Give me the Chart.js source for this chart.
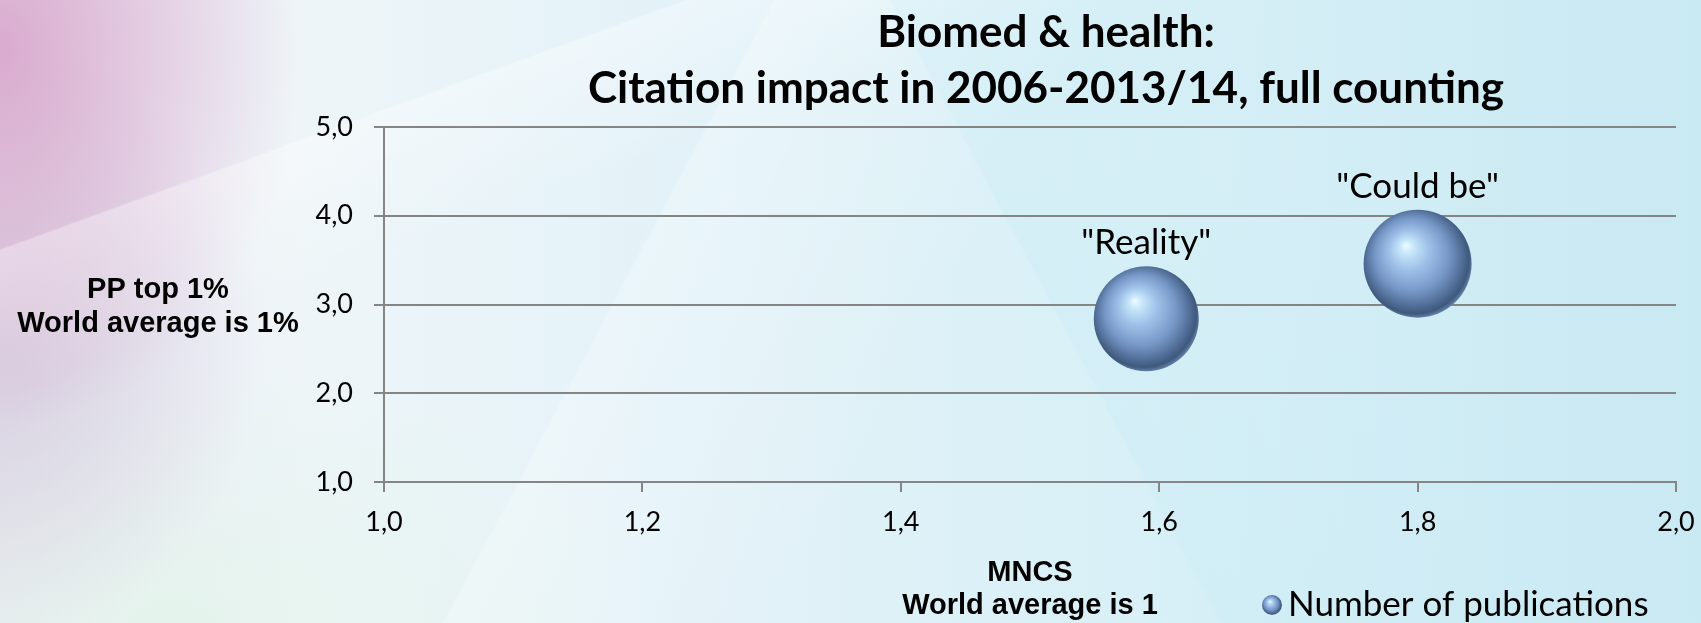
<!DOCTYPE html>
<html>
<head>
<meta charset="utf-8">
<script src="https://cdn.jsdelivr.net/npm/chart.js@4.4.0/dist/chart.umd.min.js"></script>
<style>
html, body { margin: 0; padding: 0; width: 1701px; height: 623px; overflow: hidden; }
#wrap {
  position: relative; width: 1701px; height: 623px;
  background:
    linear-gradient(118deg, rgba(255,255,255,0) 0%, rgba(255,255,255,0) 38%, rgba(255,255,255,0.25) 38.2%, rgba(255,255,255,0.0) 55%),
    linear-gradient(62deg, rgba(255,255,255,0) 0%, rgba(255,255,255,0) 60%, rgba(200,235,245,0.35) 60.2%, rgba(200,235,245,0) 80%),
    linear-gradient(160deg, rgba(255,255,255,0) 0%, rgba(255,255,255,0) 20%, rgba(255,255,255,0.35) 20.2%, rgba(255,255,255,0) 32%),
    radial-gradient(ellipse 300px 380px at 0% 8%, rgba(214,160,200,0.85), rgba(214,160,200,0) 100%),
    radial-gradient(ellipse 260px 300px at 0% 55%, rgba(205,195,215,0.7), rgba(205,195,215,0) 100%),
    radial-gradient(ellipse 500px 250px at 10% 100%, rgba(228,244,236,0.9), rgba(228,244,236,0) 100%),
    linear-gradient(90deg, #ece9f3 0%, #eef5f8 18%, #e3f2f8 40%, #d9f0f7 65%, #c9e9f3 100%);
}
canvas { display: block; }
</style>
</head>
<body>
<div id="wrap"><canvas id="c" width="1701" height="623"></canvas></div>
<script>
// ---- data ----
const titleLines = ['Biomed & health:', 'Citation impact in 2006-2013/14, full counting'];
const seriesName = 'Number of publications';
const pointLabels = ['"Reality"', '"Could be"'];
const mncs = [1.59, 1.80];          // x: MNCS
const ppTop1 = [2.84, 3.46];        // y: PP top 1%
const bubbleSize = [52.5, 54];      // bubble radius (number of publications)
const xTickLabels = ['1,0', '1,2', '1,4', '1,6', '1,8', '2,0'];
const yTickLabels = ['1,0', '2,0', '3,0', '4,0', '5,0'];
const xAxisTitle = ['MNCS', 'World average is 1'];
const yAxisTitle = ['PP top 1%', 'World average is 1%'];

const GRID = '#858585';

function sphereGradient(ctx, cx, cy, r) {
  const g = ctx.createRadialGradient(cx - 0.22 * r, cy - 0.34 * r, 0, cx - 0.04 * r, cy - 0.06 * r, 1.08 * r);
  g.addColorStop(0.0, '#effdff');
  g.addColorStop(0.12, '#c6e6f9');
  g.addColorStop(0.35, '#9dbfe7');
  g.addColorStop(0.62, '#7899c8');
  g.addColorStop(0.82, '#53709a');
  g.addColorStop(0.93, '#3f597b');
  g.addColorStop(1.0, '#6887b2');
  return g;
}

const points = mncs.map((x, i) => ({ x: x, y: ppTop1[i], r: bubbleSize[i] }));

const overlay = {
  id: 'overlay',
  afterDraw(chart) {
    const ctx = chart.ctx;
    const ca = chart.chartArea;
    ctx.save();
    ctx.fillStyle = '#000';
    // chart title
    ctx.font = 'bold 44px Lato';
    ctx.textAlign = 'center';
    ctx.textBaseline = 'alphabetic';
    const tx = (ca.left + ca.right) / 2 + 16;
    ctx.fillText(titleLines[0], tx, 47);
    ctx.fillText(titleLines[1], tx, 103);
    // y axis title (horizontal)
    ctx.font = 'bold 29px "Liberation Sans"';
    const ymid = (ca.top + ca.bottom) / 2;
    ctx.fillText(yAxisTitle[0], 158, ymid - 7);
    ctx.fillText(yAxisTitle[1], 158, ymid + 27);
    // data labels
    ctx.font = '35px Lato';
    const meta = chart.getDatasetMeta(0);
    meta.data.forEach((el, i) => {
      const r = el.options.radius;
      ctx.fillText(pointLabels[i], el.x, el.y - r - 12);
    });
    // legend
    const lx = ca.right - 404, ly = 605;
    ctx.fillStyle = sphereGradient(ctx, lx, ly, 10);
    ctx.beginPath(); ctx.arc(lx, ly, 10, 0, Math.PI * 2); ctx.fill();
    ctx.fillStyle = '#000';
    ctx.textAlign = 'left';
    ctx.font = '35px Lato';
    ctx.fillText(chart.data.datasets[0].label, lx + 16, 616);
    ctx.restore();
  }
};

new Chart(document.getElementById('c'), {
  type: 'bubble',
  data: {
    datasets: [{
      label: seriesName,
      data: points,
      borderWidth: 0,
      hoverBorderWidth: 0,
      backgroundColor: (c) => {
        const fallback = '#8fb0da';
        if (c.type !== 'data' || !c.raw || !c.chart.scales || !c.chart.scales.x) return fallback;
        const xs = c.chart.scales.x, ys = c.chart.scales.y;
        const cx = xs.getPixelForValue(c.raw.x), cy = ys.getPixelForValue(c.raw.y), r = c.raw.r;
        if (![cx, cy, r].every(Number.isFinite)) return fallback;
        return sphereGradient(c.chart.ctx, cx, cy, r);
      }
    }]
  },
  options: {
    responsive: false,
    animation: false,
    devicePixelRatio: 1,
    events: [],
    layout: { autoPadding: false, padding: { left: 0, right: 25, top: 127, bottom: 0 } },
    plugins: {
      legend: { display: false },
      title: { display: false },
      tooltip: { enabled: false }
    },
    scales: {
      x: {
        type: 'linear',
        min: 1, max: 2,
        afterFit: (s) => { s.height = 141; s.paddingLeft = 0; s.paddingRight = 0; },
        ticks: {
          stepSize: 0.2,
          color: '#000',
          font: { family: 'Lato', size: 27, lineHeight: 1.2 },
          padding: 14,
          callback: (v, i) => xTickLabels[i]
        },
        grid: { display: true, drawOnChartArea: false, drawTicks: true, tickLength: 10, color: GRID, lineWidth: 2 },
        border: { display: true, color: GRID, width: 2 },
        title: {
          display: true,
          text: xAxisTitle,
          color: '#000',
          font: { family: 'Liberation Sans', weight: 'bold', size: 29, lineHeight: 1.14 },
          padding: { top: 0, bottom: 0 }
        }
      },
      y: {
        type: 'linear',
        min: 1, max: 5,
        afterFit: (s) => { s.width = 384; },
        ticks: {
          stepSize: 1,
          color: '#000',
          font: { family: 'Lato', size: 27 },
          padding: 21,
          callback: (v, i) => yTickLabels[i]
        },
        grid: { display: true, drawTicks: true, tickLength: 10, color: GRID, lineWidth: 2 },
        border: { display: true, color: GRID, width: 2 }
      }
    }
  },
  plugins: [overlay]
});
</script>
</body>
</html>
